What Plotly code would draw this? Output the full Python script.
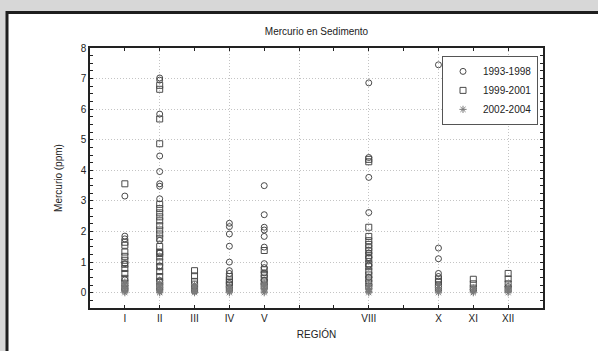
import plotly.graph_objects as go

# regions that have samples (numeric position on the axis) and their labels
region_num = [1, 2, 3, 4, 5, 8, 10, 11, 12]
region_lbl = ["I", "II", "III", "IV", "V", "VIII", "X", "XI", "XII"]
all_ticks = [1, 2, 3, 4, 5, 6, 7, 8, 9, 10, 11, 12]

# mercury (ppm), one list per region in the order of region_num
hg_1993_1998 = [
    [3.16, 1.85, 1.76, 0.95, 0.42, 0.12],
    [7.02, 6.95, 5.84, 4.47, 3.96, 3.56, 3.48, 3.07, 1.71, 1.30, 0.88, 0.40, 0.10],
    [0.20, 0.05],
    [2.27, 2.16, 1.92, 1.52, 1.00, 0.72, 0.63, 0.30],
    [3.50, 2.55, 2.14, 2.05, 1.84, 1.49, 0.95, 0.82, 0.65, 0.40],
    [6.86, 4.42, 3.77, 2.62, 1.30, 1.15, 0.90, 0.50],
    [7.45, 1.46, 1.11, 0.63, 0.53, 0.38],
    [0.10],
    [0.20],
]
hg_1999_2001 = [
    [3.56, 1.65, 1.55, 1.33, 1.19, 1.06, 0.93, 0.79, 0.63, 0.47, 0.31, 0.15],
    [6.78, 6.65, 5.68, 4.87, 2.89, 2.75, 2.61, 2.48, 2.35, 2.19, 2.05, 1.92,
     1.78, 1.51, 1.33, 1.28, 1.17, 1.01, 0.85, 0.69, 0.53, 0.36, 0.20],
    [0.72, 0.55, 0.37, 0.28, 0.15],
    [0.53, 0.42, 0.35, 0.25, 0.15],
    [1.38, 0.75, 0.60, 0.48, 0.35, 0.22],
    [4.36, 4.28, 2.14, 1.84, 1.70, 1.58, 1.47, 1.36, 1.22, 1.11, 0.95, 0.85,
     0.70, 0.58, 0.45, 0.32, 0.20],
    [0.45, 0.35, 0.25, 0.15],
    [0.44, 0.29, 0.15],
    [5.61, 0.63, 0.45, 0.29, 0.12],
]
hg_2002_2004 = [
    [0.00, 0.04, 0.08, 0.13, 0.18, 0.24, 0.30, 0.35],
    [0.00, 0.03, 0.07, 0.12, 0.17, 0.22, 0.28, 0.33],
    [0.00, 0.05, 0.10, 0.16, 0.22, 0.27],
    [0.00, 0.04, 0.09, 0.15, 0.20],
    [0.00, 0.05, 0.10, 0.14, 0.19, 0.25, 0.31],
    [0.00, 0.04, 0.09, 0.14, 0.20, 0.26],
    [0.00, 0.05, 0.11, 0.17, 0.23],
    [0.00, 0.04, 0.10, 0.16],
    [0.00, 0.06, 0.12, 0.18],
]
threshold = 0.8

W, H = 598, 351
L, R, T, B = 90, 55, 48, 39


def flatten(groups):
    xs, ys = [], []
    for r, vals in zip(region_num, groups):
        xs += [r] * len(vals)
        ys += vals
    return xs, ys


def paper_x(px):
    return (px - L) / (W - L - R)


def paper_y(py):
    return (H - B - py) / (H - T - B)


fig = go.Figure()

series = [
    ("1993-1998", hg_1993_1998, "circle-open", 6, "#4a4a4a"),
    ("1999-2001", hg_1999_2001, "square-open", 6, "#4a4a4a"),
    ("2002-2004", hg_2002_2004, "asterisk-open", 6, "#7a7a7a"),
]
for name, groups, sym, size, col in series:
    xs, ys = flatten(groups)
    fig.add_trace(go.Scatter(
        x=xs, y=ys, mode="markers", name=name,
        marker=dict(symbol=sym, size=size, color=col, line=dict(color=col, width=1)),
    ))

# overlay axis only used for the dotted vertical grid (every 2 units)
fig.add_trace(go.Scatter(x=[0, 13], y=[None, None], xaxis="x2", showlegend=False,
                         hoverinfo="skip"))

fig.add_hline(y=threshold, line=dict(color="#555555", width=1))

ticktext = [dict(zip(region_num, region_lbl)).get(t, "") for t in all_ticks]
grid = dict(gridcolor="#c4c4c4", griddash="1px,2px", gridwidth=1)

fig.update_layout(
    width=W, height=H,
    margin=dict(l=L, r=R, t=T, b=B),
    paper_bgcolor="#d7d7d7",
    plot_bgcolor="white",
    font=dict(family="Liberation Sans, Arial, sans-serif", size=10, color="#222222"),
    title=dict(text="Mercurio en Sedimento", x=0.5, xref="paper", xanchor="center",
               y=1 - 31 / H, yanchor="middle", font=dict(size=10)),
    showlegend=True,
    legend=dict(x=paper_x(538), y=paper_y(56), xanchor="right", yanchor="top",
                bgcolor="white", bordercolor="#555555", borderwidth=1,
                font=dict(size=10), itemwidth=30),
    xaxis=dict(range=[0, 13], tickvals=all_ticks, ticktext=ticktext,
               ticks="inside", ticklen=3, tickcolor="#222222", mirror="ticks",
               showline=True, linecolor="#222222", linewidth=1.5, showgrid=False,
               zeroline=False,
               title=dict(text="REGIÓN", standoff=8, font=dict(size=10))),
    xaxis2=dict(range=[0, 13], overlaying="x", dtick=2, tick0=0, showgrid=True,
                showticklabels=False, ticks="", showline=False, zeroline=False,
                layer="below traces", **grid),
    yaxis=dict(range=[-0.5, 8], dtick=1, tick0=0, ticks="inside", ticklen=3,
               tickcolor="#222222", mirror="allticks", showline=True,
               linecolor="#222222", linewidth=1.5, showgrid=True, zeroline=False,
               minor=dict(dtick=0.25, tick0=0, ticks="inside", ticklen=2,
                          tickcolor="#222222", showgrid=False),
               title=dict(text="Mercurio (ppm)", standoff=16, font=dict(size=10)),
               **grid),
    shapes=[dict(type="rect", xref="paper", yref="paper",
                 x0=paper_x(7), x1=paper_x(W + 20), y0=paper_y(H + 20), y1=paper_y(12),
                 fillcolor="white", line=dict(color="#1e1e1e", width=3), layer="below")],
)

fig.write_html("out.html",
               config={"displayModeBar": False},
               post_script="document.body.style.margin='0';"
                           "document.body.style.overflow='hidden';")
